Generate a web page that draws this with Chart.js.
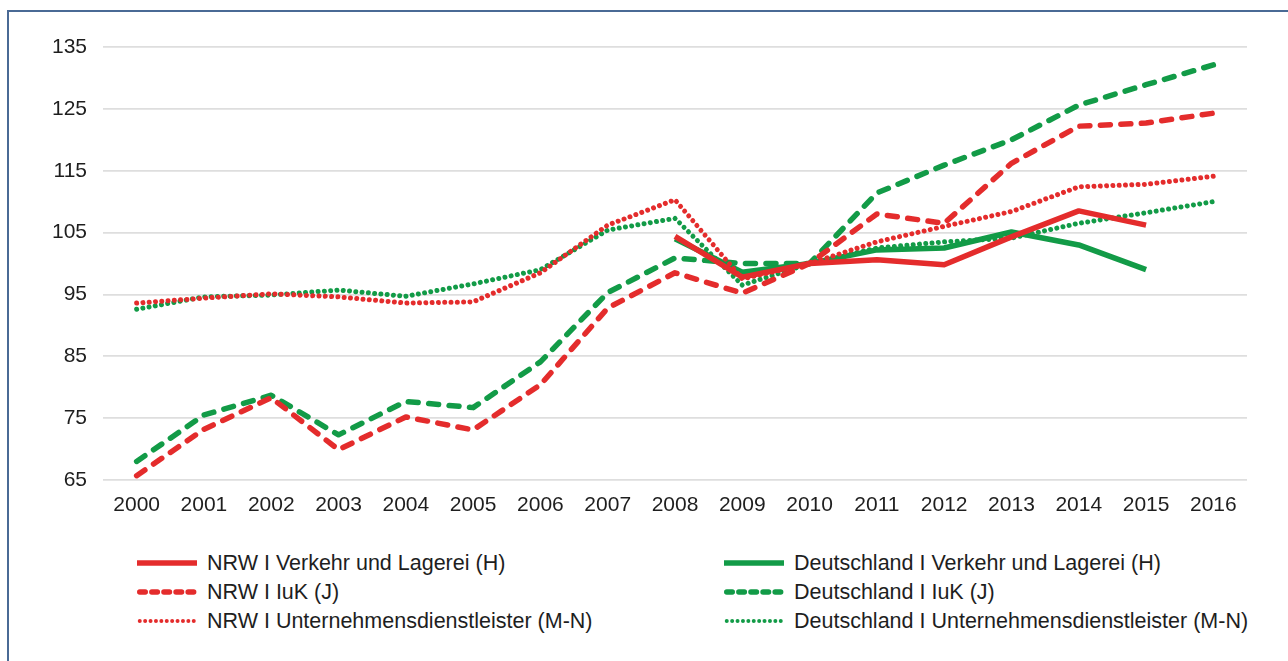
<!DOCTYPE html>
<html>
<head>
<meta charset="utf-8">
<script src="https://cdn.jsdelivr.net/npm/chart.js@4"></script>
<style>
  html, body { margin:0; padding:0; background:#fff; width:1288px; height:661px; overflow:hidden; }
  body { position:relative; font-family:"Liberation Sans", Arial, Helvetica, sans-serif; }
  #frame { position:absolute; left:7px; top:10px; width:1300px; height:700px; border-left:2px solid #4a6a95; border-top:2px solid #4a6a95; box-sizing:border-box; }
  #wrap { position:absolute; left:0; top:0; width:1288px; height:530px; }
  .leg { position:absolute; display:flex; align-items:center; height:26px; font-size:21.5px; color:#1e1e1e; white-space:nowrap; }
  .leg svg { margin-right:10px; }
</style>
</head>
<body>
<div id="frame"></div>
<div id="wrap"><canvas id="c" width="1288" height="530"></canvas></div>
<div id="legend"></div>
<script>
const years = ['2000','2001','2002','2003','2004','2005','2006','2007','2008','2009','2010','2011','2012','2013','2014','2015','2016'];
const yTicks = [65, 75, 85, 95, 105, 115, 125, 135];

const labels = [
  'NRW I Verkehr und Lagerei (H)',
  'NRW I IuK (J)',
  'NRW I Unternehmensdienstleister (M-N)',
  'Deutschland I Verkehr und Lagerei (H)',
  'Deutschland I IuK (J)',
  'Deutschland I Unternehmensdienstleister (M-N)'
];

const nrwVerkehr = [null, null, null, null, null, null, null, null, 104.4, 97.8, 100, 100.6, 99.8, 104.3, 108.5, 106.2, null];
const nrwIuK     = [65.7, 73.2, 78.3, 69.9, 75.2, 73.1, 80.4, 92.8, 98.5, 95.2, 100, 108.0, 106.5, 116.2, 122.2, 122.7, 124.3];
const nrwUD      = [93.6, 94.4, 95.1, 94.6, 93.6, 93.8, 98.5, 106.2, 110.3, 97.5, 100, 103.5, 106.0, 108.4, 112.4, 112.8, 114.1];
const deVerkehr  = [null, null, null, null, null, null, null, null, 104.0, 98.6, 100, 102.2, 102.5, 105.1, 103.0, 99.0, null];
const deIuK      = [68.0, 75.5, 78.7, 72.3, 77.7, 76.7, 84.1, 95.3, 100.9, 100.0, 100, 111.4, 115.9, 120.0, 125.6, 128.9, 132.1];
const deUD       = [92.6, 94.6, 94.9, 95.7, 94.7, 96.7, 99.0, 105.4, 107.3, 96.5, 100, 102.5, 103.5, 104.1, 106.5, 108.2, 110.0];

const RED = '#e42c2c';
const GREEN = '#129b47';

const styles = {
  solid:  { borderWidth: 5.5, borderDash: [], cap: 'butt' },
  dashed: { borderWidth: 5.5, borderDash: [10, 10.5], cap: 'round' },
  dotted: { borderWidth: 5, borderDash: [0.001, 6.3], cap: 'round' }
};

const series = [
  { label: labels[0], data: nrwVerkehr, color: RED, style: 'solid' },
  { label: labels[1], data: nrwIuK, color: RED, style: 'dashed' },
  { label: labels[2], data: nrwUD, color: RED, style: 'dotted' },
  { label: labels[3], data: deVerkehr, color: GREEN, style: 'solid' },
  { label: labels[4], data: deIuK, color: GREEN, style: 'dashed' },
  { label: labels[5], data: deUD, color: GREEN, style: 'dotted' }
];

const datasets = series.map(s => ({
  label: s.label,
  data: s.data,
  borderColor: s.color,
  backgroundColor: s.color,
  borderWidth: styles[s.style].borderWidth,
  borderDash: styles[s.style].borderDash,
  borderCapStyle: styles[s.style].cap,
  borderJoinStyle: 'round',
  pointRadius: 0,
  pointHoverRadius: 0,
  tension: 0,
  fill: false,
  spanGaps: false
}));

const FONT = '"Liberation Sans", Arial, Helvetica, sans-serif';

new Chart(document.getElementById('c'), {
  type: 'line',
  data: { labels: years, datasets: datasets },
  options: {
    responsive: false,
    animation: false,
    devicePixelRatio: 1,
    layout: { padding: { top: 47, right: 41, bottom: 0, left: 0 } },
    plugins: { legend: { display: false }, tooltip: { enabled: false } },
    scales: {
      x: {
        offset: true,
        grid: { display: false, drawTicks: false },
        border: { display: false },
        ticks: { color: '#1e1e1e', font: { family: FONT, size: 21 }, padding: 13, maxRotation: 0, autoSkip: false },
        afterFit: sc => { sc.height = 50; }
      },
      y: {
        min: 65, max: 135,
        afterBuildTicks: sc => { sc.ticks = yTicks.map(v => ({ value: v })); },
        grid: { color: '#dedede', lineWidth: 1.8, drawTicks: false },
        border: { display: false },
        ticks: { color: '#1e1e1e', font: { family: FONT, size: 21 }, padding: 16 },
        afterFit: sc => { sc.width = 103; }
      }
    }
  }
});

// HTML legend built from the same series
const legendPos = [
  { x: 137, y: 550 }, { x: 137, y: 579 }, { x: 137, y: 608 },
  { x: 724, y: 550 }, { x: 724, y: 579 }, { x: 724, y: 608 }
];
const legendDash = { solid: { w: 5.5, dash: '', cap: 'butt' }, dashed: { w: 5.5, dash: '5.5 6.6', cap: 'round' }, dotted: { w: 4, dash: '0 5.4', cap: 'round' } };
const legendEl = document.getElementById('legend');
series.forEach((s, i) => {
  const d = legendDash[s.style];
  const div = document.createElement('div');
  div.className = 'leg';
  div.style.left = legendPos[i].x + 'px';
  div.style.top = legendPos[i].y + 'px';
  const x1 = s.style === 'solid' ? 0 : 2.75;
  const x2 = s.style === 'solid' ? 60 : 58;
  div.innerHTML = '<svg width="60" height="10"><line x1="' + x1 + '" y1="5" x2="' + x2 + '" y2="5" stroke="' + s.color + '" stroke-width="' + d.w + '" stroke-linecap="' + d.cap + '"' + (d.dash ? ' stroke-dasharray="' + d.dash + '"' : '') + '/></svg>';
  const span = document.createElement('span');
  span.textContent = s.label;
  div.appendChild(span);
  legendEl.appendChild(div);
});
</script>
</body>
</html>
